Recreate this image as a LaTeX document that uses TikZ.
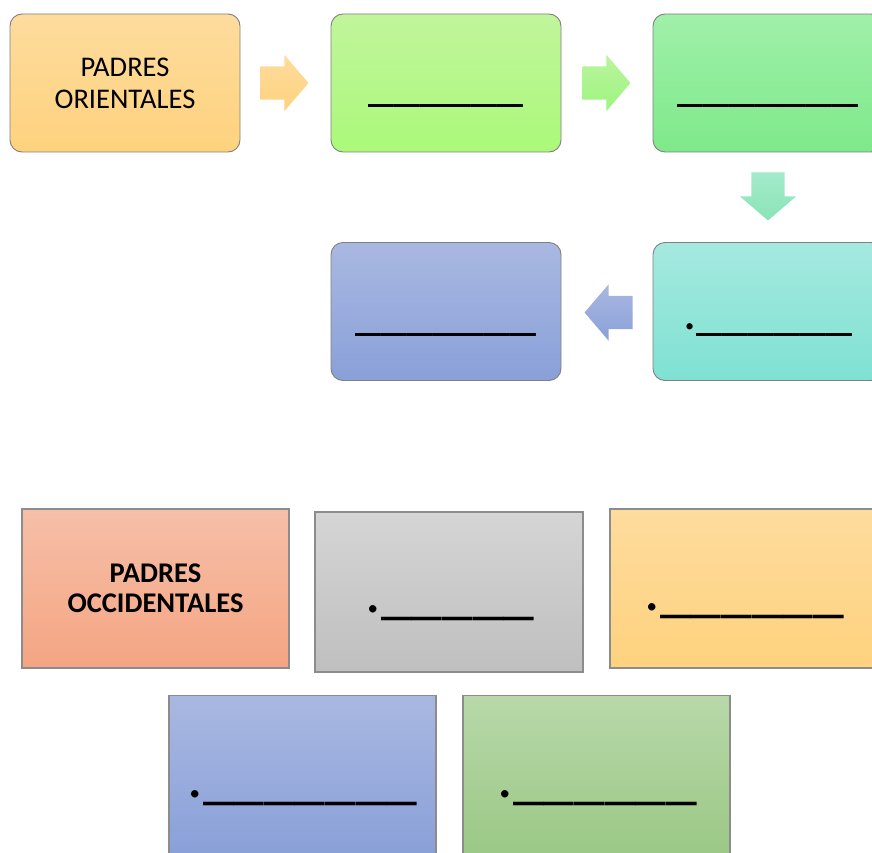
\documentclass[tikz,border=0pt]{standalone}
\usepackage{fontspec}
\setmainfont{Carlito}
\usetikzlibrary{shapes.arrows,calc}
\definecolor{orangeT}{HTML}{FEDC9E}
\definecolor{orangeB}{HTML}{FED27E}
\definecolor{limeT}{HTML}{C1F59C}
\definecolor{limeB}{HTML}{ABF97A}
\definecolor{greenT}{HTML}{A0F0AA}
\definecolor{greenB}{HTML}{7EE98A}
\definecolor{mintT}{HTML}{A3EACB}
\definecolor{mintB}{HTML}{8BE4B8}
\definecolor{tealT}{HTML}{A5E9DF}
\definecolor{tealB}{HTML}{7FE1D2}
\definecolor{blueT}{HTML}{A9B8E1}
\definecolor{blueB}{HTML}{89A0D8}
\definecolor{salmonT}{HTML}{F6BFA8}
\definecolor{salmonB}{HTML}{F4A582}
\definecolor{greyT}{HTML}{D5D5D5}
\definecolor{greyB}{HTML}{BFBFBF}
\definecolor{leafT}{HTML}{B8D8A9}
\definecolor{leafB}{HTML}{9BC886}

\begin{document}
\begin{tikzpicture}[x=1pt,y=-1pt,
    box/.style={draw=black!50,line width=0.9pt,minimum width=230pt,minimum height=138pt,rounded corners=12pt,inner sep=0pt},
    sqbox/.style={draw=black!45,line width=1.3pt,minimum width=267pt,minimum height=159pt,inner sep=0pt},
    blank/.style={font=\fontsize{52}{60}\selectfont,inner sep=0pt,anchor=base},
    bigblank/.style={font=\fontsize{61.5}{70}\selectfont,inner sep=0pt,anchor=base},
    title/.style={font=\fontsize{28.5}{32}\selectfont,align=center,inner sep=0pt},
    blockarrow/.style={single arrow,single arrow head extend=11.5pt,single arrow tip angle=99,minimum height=48pt,inner xsep=0pt,inner ysep=16.5pt,outer sep=0pt,anchor=tail},
    downarrow/.style={blockarrow,shape border rotate=270,inner xsep=16.5pt,inner ysep=0pt}]
    \useasboundingbox (0,0) rectangle (872,853);
    \clip (0,0) rectangle (872,853);
    % oriental row
    \node[box,top color=orangeT,bottom color=orangeB] (b1) at (125,83) {};
    \node[box,top color=limeT,bottom color=limeB] (b2) at (446,83) {};
    \node[box,top color=greenT,bottom color=greenB] (b3) at (768,83) {};
    \node[box,top color=tealT,bottom color=tealB] (b4) at (768,311.5) {};
    \node[box,top color=blueT,bottom color=blueB] (b5) at (446,311.5) {};
    \node[title] (t1) at (b1) {PADRES\\ORIENTALES};
    \node[blank] (t2) at ($(b2.center)+(0,18)$) {\_\_\_\_\_\_};
    \node[blank] (t3) at ($(b3.center)+(0,18)$) {\_\_\_\_\_\_\_};
    \node[blank] (t4) at ($(b4.center)+(0,18)$) {.\_\_\_\_\_\_};
    \node[blank] (t5) at ($(b5.center)+(0,18)$) {\_\_\_\_\_\_\_};
    \node[blockarrow,top color=orangeT,bottom color=orangeB] (a1) at ($(b1.east)+(20,0)$) {};
    \node[blockarrow,top color=limeT!80!greenT,bottom color=limeB!70!greenB] (a2) at ($(b2.east)+(21,0)$) {};
    \node[downarrow,top color=mintT,bottom color=mintB] (a3) at ($(b3.south)+(0,20)$) {};
    \node[blockarrow,shape border rotate=180,top color=blueT,bottom color=blueB] (a4) at ($(b4.west)+(-20,1)$) {};
    % occidental row
    \node[sqbox,top color=salmonT,bottom color=salmonB] (s1) at (155.5,588.5) {};
    \node[sqbox,top color=greyT,bottom color=greyB,minimum width=268pt,minimum height=160pt] (s2) at (449,592) {};
    \node[sqbox,top color=orangeT,bottom color=orangeB] (s3) at (743.5,588.5) {};
    \node[sqbox,top color=blueT,bottom color=blueB] (s4) at (302.5,775) {};
    \node[sqbox,top color=leafT,bottom color=leafB] (s5) at (596.5,775) {};
    \node[title,font=\fontsize{28.5}{30}\selectfont\bfseries] (u1) at (s1) {PADRES\\OCCIDENTALES};
    \node[bigblank] (u2) at ($(s2.center)+(1,20)$) {.\_\_\_\_\_};
    \node[bigblank] (u3) at ($(s3.center)+(1,22)$) {.\_\_\_\_\_\_};
    \node[bigblank] (u4) at ($(s4.center)+(0,22)$) {.\_\_\_\_\_\_\_};
    \node[bigblank] (u5) at ($(s5.center)+(1,22)$) {.\_\_\_\_\_\_};
\end{tikzpicture}
\end{document}
